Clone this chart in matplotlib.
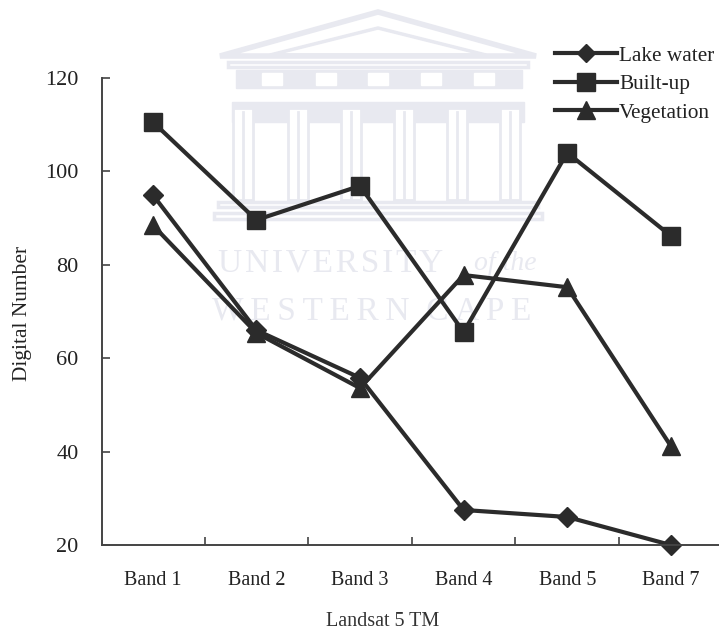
import matplotlib
matplotlib.use("Agg")
import matplotlib.pyplot as plt
from matplotlib.patches import Polygon, Rectangle

bands = ["Band 1", "Band 2", "Band 3", "Band 4", "Band 5", "Band 7"]
lake_water = [95, 66, 55.8, 27.5, 26, 20]
built_up = [110.6, 89.6, 96.9, 65.6, 104, 86.2]
vegetation = [88.5, 65.4, 53.6, 77.8, 75.2, 41.2]
y_ticks = [20, 40, 60, 80, 100, 120]

plt.rcParams['font.family'] = ['Liberation Serif', 'DejaVu Serif']
dark = '#2b2b2b'
wm = '#e8e9f0'

fig = plt.figure(figsize=(7.19, 6.35), dpi=100)
ax = fig.add_axes([102/719, 1-545/635, (719-102)/719, (545-78)/635])

x = list(range(len(bands)))
ax.plot(x, lake_water, '-D', color=dark, lw=3, ms=10, clip_on=False, label='Lake water')
ax.plot(x, built_up, '-s', color=dark, lw=3, ms=13, clip_on=False, label='Built-up')
ax.plot(x, vegetation, '-^', color=dark, lw=3, ms=13, clip_on=False, label='Vegetation')

ax.set_xlim(-0.49, 5.465)
ax.set_ylim(20, 120)
ax.set_yticks(y_ticks)
ax.set_xticks([i + 0.5 for i in range(0, 5)], labels=[''] * 5)
ax.set_xticks(x, labels=bands, minor=True)
ax.tick_params(axis='x', which='minor', length=0, labelsize=14.5, pad=18.5, colors='#222222')
ax.tick_params(axis='x', which='major', direction='in', length=6, width=1.2, color='#444444')
ax.tick_params(axis='y', direction='in', length=6, width=1.2, labelsize=16, pad=17, color='#444444', labelcolor='#222222')
ax.spines['top'].set_visible(False)
ax.spines['right'].set_visible(False)
ax.spines['left'].set_linewidth(1.4)
ax.spines['bottom'].set_linewidth(1.4)
ax.spines['left'].set_color('#444444')
ax.spines['bottom'].set_color('#444444')
ax.patch.set_alpha(0)
fig.text(23/719, 1-313/635, 'Digital Number', fontsize=15.4, rotation=90, ha='center', va='center', color='#222222')

fig.text(383/719, 1-622/635, 'Landsat 5 TM', fontsize=14.5, ha='center', va='center', color='#333333')

# watermark behind the chart
bg = fig.add_axes([0, 0, 1, 1], zorder=-1)
bg.set_xlim(0, 719)
bg.set_ylim(635, 0)
bg.axis('off')
bg.text(218, 263, '\u200a'.join('UNIVERSITY'), fontsize=24, ha='left', va='center', color=wm)
bg.text(474, 264, 'of the', fontsize=20, style='italic', ha='left', va='center', color=wm)
bg.text(212, 311, '\u2009'.join('WESTERN') + '  ' + '\u2009'.join('CAPE'), fontsize=24, ha='left', va='center', color=wm)
bg.add_patch(Polygon([[220, 56], [378, 12], [536, 56]], closed=True, fill=False, ec=wm, lw=4))
bg.add_patch(Polygon([[270, 55], [378, 28], [486, 55]], closed=True, fill=False, ec=wm, lw=2.5))
bg.add_patch(Rectangle((228, 62), 300, 5, fill=False, ec=wm, lw=2.5))
bg.add_patch(Rectangle((236, 70), 286, 18, fc=wm, ec=wm, lw=1))
for lx in [262, 316, 368, 421, 474]:
    bg.add_patch(Rectangle((lx, 73), 20, 12, fc='white', ec='white', lw=1))
bg.add_patch(Rectangle((232, 102), 292, 20, fc=wm, ec=wm, lw=1))
for cx in [243, 298, 351, 404, 457, 510]:
    bg.add_patch(Rectangle((cx - 10, 108), 20, 92, fc='white', ec=wm, lw=2))
    bg.plot([cx, cx], [112, 200], color=wm, lw=2)
bg.add_patch(Rectangle((218, 202), 320, 5, fill=False, ec=wm, lw=2.5))
bg.add_patch(Rectangle((214, 213), 328, 6, fill=False, ec=wm, lw=2.5))

ax.legend(loc='upper left', bbox_to_anchor=(555/719, 1-46/635), bbox_transform=fig.transFigure,
          frameon=False, fontsize=15.3, handlelength=2.9, labelspacing=0.4, handletextpad=0.12,
          borderpad=0, borderaxespad=0, labelcolor='#222222', markerscale=0.95)

fig.savefig('out.png', dpi=100)
